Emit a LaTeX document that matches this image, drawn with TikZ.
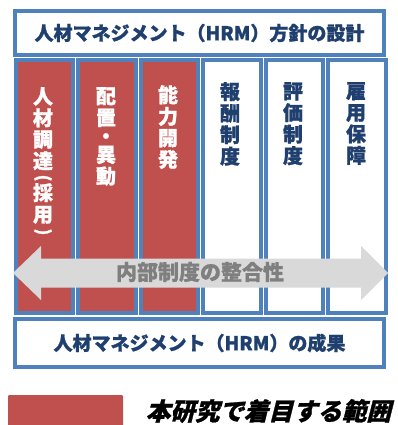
\documentclass[tikz,border=0pt]{standalone}
\usepackage{fontspec}
\newfontfamily\jp{Noto Sans CJK JP}[BoldFeatures={FakeBold=1.0}]
\definecolor{hblue}{HTML}{4F81BD}
\definecolor{hred}{HTML}{C0504D}
\definecolor{htext}{HTML}{1F3F6E}
\definecolor{hgray}{HTML}{D9D9D9}
\definecolor{hgtext}{HTML}{7F7F7F}
\tikzset{
  hbox/.style={draw=hblue, line width=4pt, fill=white, inner sep=0pt, outer sep=0pt},
  wide/.style={hbox, minimum width=369pt, minimum height=44pt, text=htext,
    font=\jp\bfseries\fontsize{19}{21}\selectfont},
  colred/.style={hbox, fill=hred, minimum width=57.5pt, minimum height=253pt},
  colwhite/.style={hbox, minimum width=57.5pt, minimum height=253pt},
  vtext/.style={anchor=north, align=center, inner sep=0pt, font=\jp\bfseries\fontsize{20}{21.5}\selectfont},
  redtext/.style={vtext, text=white},
  bluetext/.style={vtext, text=htext},
  vparen/.style={inner sep=0pt, text=white, rotate=-90, font=\jp\bfseries\fontsize{17}{18}\selectfont},
}
\begin{document}
\begin{tikzpicture}[x=1pt,y=-1pt]
\useasboundingbox (0,0) rectangle (397,425);
% top box
\node[wide, minimum height=44pt] (top) at (199.5,33) {人材マネジメント（HRM）方針の設計};
% columns
\node[colred]   (c1) at (44.25,186.5) {};
\node[colred]   (c2) at (106.75,186.5) {};
\node[colred]   (c3) at (169.25,186.5) {};
\node[colwhite] (c4) at (231.75,186.5) {};
\node[colwhite] (c5) at (294.25,186.5) {};
\node[colwhite] (c6) at (356.75,186.5) {};
\node[redtext]  (t1) at (43,87) {人\\材\\調\\達};
\node[vparen]   (p1) at (43,178) {(};
\node[redtext]  (t1b) at (43,183) {採\\用};
\node[vparen]   (p2) at (43,232) {)};
\node[redtext]  (t2) at (106,87) {配\\置\\[-3pt]・\\[-3pt]異\\動};
\node[redtext]  (t3) at (168,85) {能\\力\\開\\発};
\node[bluetext] (t4) at (230,82) {報\\酬\\制\\度};
\node[bluetext] (t5) at (293,82) {評\\価\\制\\度};
\node[bluetext] (t6) at (356,82) {雇\\用\\保\\障};
% arrow
\fill[hgray] (13,273) -- (41,246) -- (41,258.5) -- (361,258.5) -- (361,246)
  -- (388,273) -- (361,300) -- (361,287.5) -- (41,287.5) -- (41,300) -- cycle;
\node[text=hgtext, font=\jp\bfseries\fontsize{21}{23}\selectfont] (arr) at (200,272) {内部制度の整合性};
% bottom box
\node[wide, minimum height=48pt] (bot) at (199.5,343) {人材マネジメント（HRM）の成果};
% legend
\node[fill=hred, minimum width=115pt, minimum height=31pt, inner sep=0pt, rounded corners=1pt] (leg) at (65.5,410.5) {};
\node[font=\jp\bfseries\fontsize{24.5}{26}\selectfont, xslant=0.25, transform shape, anchor=west, inner sep=0pt] (legt) at (148,411) {本研究で着目する範囲};
\end{tikzpicture}
\end{document}
